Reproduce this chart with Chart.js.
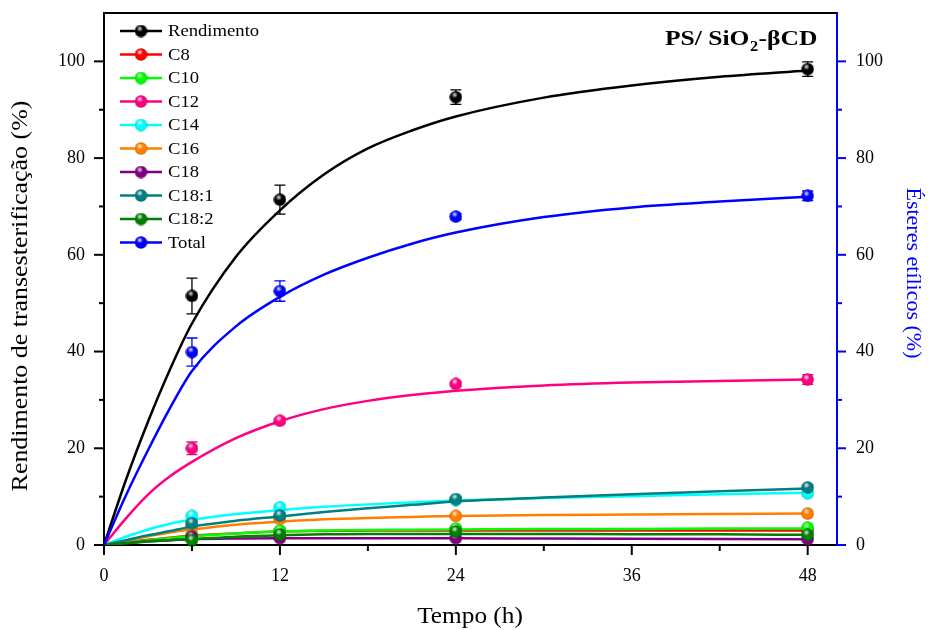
<!DOCTYPE html>
<html lang="pt">
<head>
<meta charset="utf-8">
<title>PS/ SiO2-βCD</title>
<script src="https://cdn.jsdelivr.net/npm/chart.js@4.4.1/dist/chart.umd.min.js"></script>
<style>
  html, body { margin: 0; padding: 0; background: #fff; }
  #wrap { width: 932px; height: 630px; }
</style>
</head>
<body>
<div id="wrap"><canvas id="chart" width="932" height="630"></canvas></div>
<script>
const tempo = [6, 12, 24, 48];
const tempoCurva = [0, 1.5, 3, 4.5, 6, 9, 12, 15, 18, 21, 24, 30, 36, 42, 48];

const xTicks = [0, 12, 24, 36, 48];
const xMinorTicks = [6, 18, 30, 42];
const yTicks = [0, 20, 40, 60, 80, 100];
const yMinorTicks = [10, 30, 50, 70, 90];

const nomes = ['Rendimento', 'C8', 'C10', 'C12', 'C14', 'C16', 'C18', 'C18:1', 'C18:2', 'Total'];
const cores = ['#000000', '#ff0000', '#00ff00', '#ff0080', '#00ffff', '#ff8000', '#800080', '#008080', '#008000', '#0000ff'];

// Pontos experimentais
const rendimento = [51.5, 71.4, 92.6, 98.4];
const c8 = [1.9, 2.8, 3.2, 3.0];
const c10 = [2.1, 3.0, 3.4, 3.6];
const c12 = [20.0, 25.7, 33.3, 34.2];
const c14 = [6.0, 7.8, 9.3, 10.7];
const c16 = [3.8, 5.4, 6.0, 6.5];
const c18 = [1.7, 1.4, 1.4, 1.2];
const c18_1 = [4.5, 6.1, 9.5, 11.9];
const c18_2 = [1.0, 2.2, 2.8, 2.1];
const total = [39.9, 52.5, 67.9, 72.2];

// Desvios (barras de erro)
const rendimentoErr = [3.7, 3.0, 1.5, 1.5];
const c8Err = [0.3, 0.3, 0.3, 0.3];
const c10Err = [0.3, 0.3, 0.3, 0.3];
const c12Err = [1.3, 0.6, 0.4, 1.0];
const c14Err = [0.5, 0.5, 0.4, 0.6];
const c16Err = [0.4, 0.5, 0.3, 0.4];
const c18Err = [0.3, 0.3, 0.3, 0.3];
const c18_1Err = [0.4, 0.5, 0.4, 0.5];
const c18_2Err = [0.3, 0.3, 0.3, 0.3];
const totalErr = [2.9, 2.1, 0.6, 1.0];

// Curvas de ajuste (valores lidos em tempoCurva)
const rendimentoCurva = [0, 13.5, 25.5, 36.3, 45.8, 59.6, 69.2, 76.6, 82.0, 85.7, 88.6, 92.5, 95.0, 96.8, 98.1];
const c8Curva = [0, 0.6, 1.1, 1.5, 1.9, 2.4, 2.8, 2.9, 3.0, 3.0, 3.0, 3.0, 3.0, 3.0, 3.0];
const c10Curva = [0, 0.5, 1.0, 1.4, 1.8, 2.4, 2.8, 3.0, 3.1, 3.15, 3.2, 3.3, 3.3, 3.4, 3.4];
const c12Curva = [0, 5.5, 10.4, 14.2, 17.2, 22.1, 25.6, 28.1, 29.8, 31.0, 31.9, 33.0, 33.6, 33.9, 34.2];
const c14Curva = [0, 1.7, 3.2, 4.4, 5.2, 6.4, 7.2, 7.9, 8.4, 8.8, 9.2, 9.7, 10.1, 10.5, 10.8];
const c16Curva = [0, 0.9, 1.8, 2.6, 3.2, 4.2, 4.8, 5.3, 5.6, 5.8, 6.0, 6.2, 6.3, 6.4, 6.5];
const c18Curva = [0, 0.4, 0.8, 1.0, 1.2, 1.35, 1.4, 1.4, 1.4, 1.4, 1.4, 1.35, 1.3, 1.25, 1.2];
const c18_1Curva = [0, 1.0, 2.0, 2.9, 3.8, 5.0, 5.9, 6.8, 7.6, 8.3, 9.0, 9.8, 10.5, 11.1, 11.7];
const c18_2Curva = [0, 0.35, 0.7, 1.0, 1.2, 1.7, 2.0, 2.2, 2.3, 2.3, 2.3, 2.3, 2.2, 2.2, 2.1];
const totalCurva = [0, 10.3, 19.6, 28.3, 36.0, 45.2, 51.3, 55.9, 59.4, 62.3, 64.6, 67.8, 69.8, 71.0, 72.0];

const valores = [rendimento, c8, c10, c12, c14, c16, c18, c18_1, c18_2, total];
const erros = [rendimentoErr, c8Err, c10Err, c12Err, c14Err, c16Err, c18Err, c18_1Err, c18_2Err, totalErr];
const curvas = [rendimentoCurva, c8Curva, c10Curva, c12Curva, c14Curva, c16Curva, c18Curva, c18_1Curva, c18_2Curva, totalCurva];

const SERIF = "'Liberation Serif', 'Times New Roman', serif";
const markers = cores.map(sphereMarker);

function mix(hex, f) {
  const n = parseInt(hex.slice(1), 16);
  const ch = [(n >> 16) & 255, (n >> 8) & 255, n & 255].map(c => Math.round(c * f));
  return `rgb(${ch[0]},${ch[1]},${ch[2]})`;
}

// Marcador esférico com brilho, como no Origin
function sphereMarker(color) {
  const size = 13;
  const c = document.createElement('canvas');
  c.width = size;
  c.height = size;
  const g = c.getContext('2d');
  const r = size / 2;
  const body = g.createRadialGradient(r, r, 0, r, r, r);
  body.addColorStop(0, color);
  body.addColorStop(0.7, color);
  body.addColorStop(1, mix(color, 0.75));
  g.fillStyle = body;
  g.beginPath();
  g.arc(r, r, r - 0.3, 0, Math.PI * 2);
  g.fill();
  // reflexo
  const hl = g.createRadialGradient(r - 1.2, r - 2.3, 0, r - 1.2, r - 2.3, 3.2);
  hl.addColorStop(0, 'rgba(255,255,255,0.95)');
  hl.addColorStop(0.5, 'rgba(255,255,255,0.45)');
  hl.addColorStop(1, 'rgba(255,255,255,0)');
  g.fillStyle = hl;
  g.beginPath();
  g.arc(r, r, r - 0.3, 0, Math.PI * 2);
  g.fill();
  return c;
}

function drawStretched(ctx, text, x, y, font, sx, align) {
  ctx.save();
  ctx.font = font;
  const w = ctx.measureText(text).width * sx;
  let left = x;
  if (align === 'center') left = x - w / 2;
  else if (align === 'right') left = x - w;
  ctx.translate(left, y);
  ctx.scale(sx, 1);
  ctx.textAlign = 'left';
  ctx.fillText(text, 0, 0);
  ctx.restore();
  return w;
}

function buildDatasets() {
  const sets = [];
  nomes.forEach((nome, i) => {
    const order = (nomes.length - i) * 2;
    sets.push({
      label: nome + ' ajuste',
      data: tempoCurva.map((t, k) => ({ x: t, y: curvas[i][k] })),
      borderColor: cores[i],
      borderWidth: 2.5,
      pointRadius: 0,
      cubicInterpolationMode: 'monotone',
      fill: false,
      order: order + 1
    });
    sets.push({
      label: nome,
      data: tempo.map((t, k) => ({ x: t, y: valores[i][k] })),
      showLine: false,
      pointStyle: markers[i],
      pointRadius: 6,
      errors: erros[i],
      errorColor: cores[i],
      order: order,
      clip: false
    });
  });
  return sets;
}

const errorBars = {
  id: 'errorBars',
  beforeDatasetDraw(chart, args) {
    const ds = chart.data.datasets[args.index];
    if (!ds.errors) return;
    const ctx = chart.ctx;
    const y = chart.scales.y;
    ctx.save();
    ctx.strokeStyle = ds.errorColor;
    ctx.lineWidth = 1.3;
    args.meta.data.forEach((pt, k) => {
      const v = ds.data[k].y;
      const top = y.getPixelForValue(v + ds.errors[k]);
      const bot = y.getPixelForValue(v - ds.errors[k]);
      ctx.beginPath();
      ctx.moveTo(pt.x, top);
      ctx.lineTo(pt.x, bot);
      ctx.moveTo(pt.x - 5.5, top);
      ctx.lineTo(pt.x + 5.5, top);
      ctx.moveTo(pt.x - 5.5, bot);
      ctx.lineTo(pt.x + 5.5, bot);
      ctx.stroke();
    });
    ctx.restore();
  }
};

const decorations = {
  id: 'decorations',
  afterDraw(chart) {
    const ctx = chart.ctx;
    const area = chart.chartArea;
    const { x, y, y2 } = chart.scales;
    ctx.save();
    ctx.lineWidth = 2;

    // moldura superior
    ctx.strokeStyle = '#000';
    ctx.beginPath();
    ctx.moveTo(area.left - 1, area.top);
    ctx.lineTo(area.right, area.top);
    ctx.stroke();

    // marcas dos eixos
    const tick = (x1, y1, x2, y2c) => { ctx.beginPath(); ctx.moveTo(x1, y1); ctx.lineTo(x2, y2c); ctx.stroke(); };
    xTicks.forEach(v => { const px = x.getPixelForValue(v); tick(px, area.bottom, px, area.bottom + 10); });
    xMinorTicks.forEach(v => { const px = x.getPixelForValue(v); tick(px, area.bottom, px, area.bottom + 6); });
    yTicks.forEach(v => { const py = y.getPixelForValue(v); tick(area.left, py, area.left - 10, py); });
    yMinorTicks.forEach(v => { const py = y.getPixelForValue(v); tick(area.left, py, area.left - 5, py); });
    ctx.strokeStyle = '#0000ff';
    yTicks.forEach(v => { const py = y2.getPixelForValue(v); tick(area.right, py, area.right + 9, py); });
    yMinorTicks.forEach(v => { const py = y2.getPixelForValue(v); tick(area.right, py, area.right + 5, py); });

    // títulos dos eixos
    ctx.textBaseline = 'middle';
    ctx.fillStyle = '#000';
    drawStretched(ctx, 'Tempo (h)', 470, 617, `23px ${SERIF}`, 1.1, 'center');

    ctx.save();
    ctx.translate(21, 296);
    ctx.rotate(-Math.PI / 2);
    drawStretched(ctx, 'Rendimento de transesterificação (%)', 0, 0, `24px ${SERIF}`, 1.08, 'center');
    ctx.restore();

    ctx.save();
    ctx.fillStyle = '#0000ff';
    ctx.translate(913, 273);
    ctx.rotate(Math.PI / 2);
    drawStretched(ctx, 'Ésteres etílicos (%)', 0, 0, `22px ${SERIF}`, 1.0, 'center');
    ctx.restore();

    // legenda
    nomes.forEach((nome, i) => {
      const ly = 31 + i * 23.5;
      ctx.strokeStyle = cores[i];
      ctx.lineWidth = 2.5;
      tick(120, ly, 162, ly);
      ctx.drawImage(markers[i], 141 - 6.5, ly - 6.5);
      ctx.fillStyle = '#000';
      drawStretched(ctx, nome, 168, ly + 1, `16.5px ${SERIF}`, 1.13, 'left');
    });

    // título do gráfico
    ctx.textBaseline = 'alphabetic';
    ctx.fillStyle = '#000';
    let tx = 665;
    tx += drawStretched(ctx, 'PS/ SiO', tx, 45, `bold 22px ${SERIF}`, 1.16, 'left');
    tx += drawStretched(ctx, '2', tx + 0.5, 51, `bold 14px ${SERIF}`, 1.16, 'left') + 1;
    drawStretched(ctx, '-βCD', tx, 45, `bold 22px ${SERIF}`, 1.16, 'left');

    ctx.restore();
  }
};

function tickFont() {
  return { family: SERIF, size: 18 };
}

// sem folgas extras dos rótulos: a área do gráfico fica fixa
function fixHeight(h) {
  return s => { s.height = h; s.paddingLeft = 0; s.paddingRight = 0; s.paddingTop = 0; s.paddingBottom = 0; };
}
function fixWidth(w) {
  return s => { s.width = w; s.paddingLeft = 0; s.paddingRight = 0; s.paddingTop = 0; s.paddingBottom = 0; };
}

function renderChart() {
  const ctx = document.getElementById('chart').getContext('2d');
  new Chart(ctx, {
    type: 'line',
    data: { datasets: buildDatasets() },
    options: {
      responsive: false,
      animation: false,
      events: [],
      layout: { padding: { top: 13, left: 0, right: 0, bottom: 0 } },
      plugins: {
        legend: { display: false },
        tooltip: { enabled: false }
      },
      scales: {
        x: {
          type: 'linear',
          min: 0,
          max: 50,
          afterBuildTicks: s => { s.ticks = xTicks.map(v => ({ value: v })); },
          afterFit: fixHeight(85),
          grid: { display: false, drawTicks: false },
          border: { display: true, color: '#000', width: 2 },
          ticks: { padding: 20, color: '#000', font: tickFont(), maxRotation: 0, autoSkip: false }
        },
        y: {
          position: 'left',
          min: 0,
          max: 110,
          afterBuildTicks: s => { s.ticks = yTicks.map(v => ({ value: v })); },
          afterFit: fixWidth(104),
          grid: { display: false, drawTicks: false },
          border: { display: true, color: '#000', width: 2 },
          ticks: { padding: 19, color: '#000', font: tickFont() }
        },
        y2: {
          position: 'right',
          min: 0,
          max: 110,
          afterBuildTicks: s => { s.ticks = yTicks.map(v => ({ value: v })); },
          afterFit: fixWidth(95),
          grid: { display: false, drawTicks: false },
          border: { display: true, color: '#0000ff', width: 2 },
          ticks: { padding: 19, color: '#000', font: tickFont() }
        }
      }
    },
    plugins: [errorBars, decorations]
  });
}

document.addEventListener('DOMContentLoaded', renderChart);
</script>
</body>
</html>
